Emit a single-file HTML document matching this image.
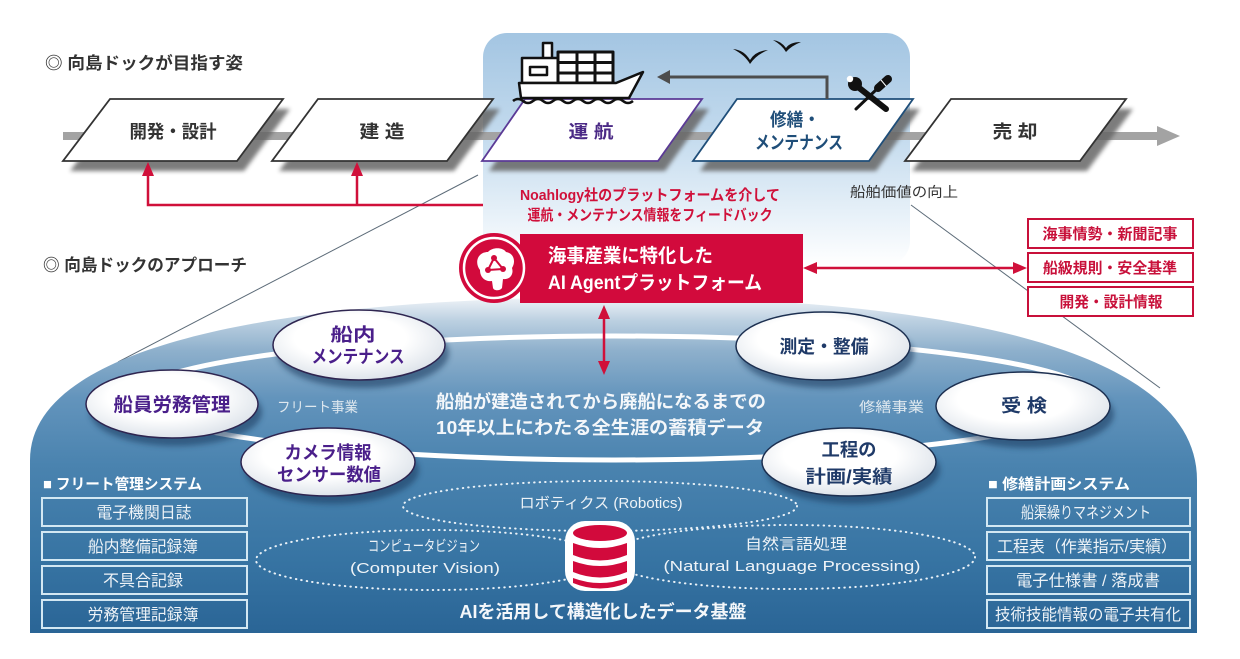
<!DOCTYPE html>
<html><head><meta charset="utf-8">
<style>
html,body{margin:0;padding:0;background:#fff;}
svg{display:block;}
text{font-family:"Liberation Sans","Noto Sans CJK JP",sans-serif;}
</style></head><body>
<svg width="1240" height="659" viewBox="0 0 1240 659" xmlns="http://www.w3.org/2000/svg">
<defs>
 <linearGradient id="sky" x1="0" y1="0" x2="0" y2="1">
   <stop offset="0" stop-color="#a3c5e2"/>
   <stop offset="0.45" stop-color="#c4dbee"/>
   <stop offset="0.8" stop-color="#e9f2f9"/>
   <stop offset="1" stop-color="#ffffff"/>
 </linearGradient>
 <linearGradient id="dome" gradientUnits="userSpaceOnUse" x1="0" y1="297" x2="0" y2="633">
   <stop offset="0" stop-color="#f0f4f8"/>
   <stop offset="0.07" stop-color="#bcd0e1"/>
   <stop offset="0.16" stop-color="#8eb0cc"/>
   <stop offset="0.3" stop-color="#6394bc"/>
   <stop offset="0.5" stop-color="#4a83af"/>
   <stop offset="0.78" stop-color="#3774a3"/>
   <stop offset="1" stop-color="#2a6596"/>
 </linearGradient>
 <radialGradient id="ell" cx="0.45" cy="0.4" r="0.65">
   <stop offset="0.5" stop-color="#ffffff"/>
   <stop offset="1" stop-color="#d8dfe7"/>
 </radialGradient>
 <filter id="blur3" x="-20%" y="-30%" width="140%" height="160%"><feGaussianBlur stdDeviation="3"/></filter>
 <filter id="blur2" x="-20%" y="-30%" width="140%" height="160%"><feGaussianBlur stdDeviation="2.2"/></filter>
</defs>

<!-- upper sky box -->
<rect x="483" y="33" width="427" height="232" rx="24" fill="url(#sky)"/>

<!-- thin diagonal lines -->
<line x1="478" y1="175" x2="118" y2="362" stroke="#5c6b78" stroke-width="1"/>
<line x1="911" y1="205" x2="1160" y2="388" stroke="#5c6b78" stroke-width="1"/>

<!-- title 1 -->
<text x="45" y="69" font-size="17" font-weight="bold" fill="#333" textLength="198" lengthAdjust="spacingAndGlyphs">◎ 向島ドックが目指す姿</text>

<!-- gray process line -->
<rect x="63" y="132" width="1096" height="8" fill="#a3a3a3"/>
<polygon points="1157,126 1180,136 1157,146" fill="#a3a3a3"/>

<!-- parallelogram shadows -->
<g fill="#666" opacity="0.85" filter="url(#blur2)">
 <polygon points="117,109 290,109 244,171 70,171"/>
 <polygon points="325,109 500,109 454,171 279,171"/>
 <polygon points="532,109 709,109 665,171 489,171"/>
 <polygon points="744,109 920,109 876,171 700,171"/>
 <polygon points="958,109 1133,109 1087,171 912,171"/>
</g>
<!-- parallelograms -->
<g fill="#fff" stroke-width="1.8">
 <polygon points="110,99 283,99 237,161 63,161" stroke="#333"/>
 <polygon points="318,99 493,99 447,161 272,161" stroke="#333"/>
 <polygon points="525,99 702,99 658,161 482,161" stroke="#5b3a96"/>
 <polygon points="737,99 913,99 869,161 693,161" stroke="#1f4e79"/>
 <polygon points="951,99 1126,99 1080,161 905,161" stroke="#333"/>
</g>
<g font-size="18" font-weight="bold" text-anchor="middle">
 <text x="173" y="138" fill="#333" textLength="87" lengthAdjust="spacingAndGlyphs">開発・設計</text>
 <text x="382" y="138" fill="#333" textLength="45" lengthAdjust="spacingAndGlyphs">建 造</text>
 <text x="591" y="138" fill="#4b2a86" textLength="45" lengthAdjust="spacingAndGlyphs">運 航</text>
 <text x="795" y="126" fill="#1f4e79" textLength="50" lengthAdjust="spacingAndGlyphs">修繕・</text>
 <text x="799" y="149" fill="#1f4e79" textLength="88" lengthAdjust="spacingAndGlyphs">メンテナンス</text>
 <text x="1015" y="138" fill="#333" textLength="45" lengthAdjust="spacingAndGlyphs">売 却</text>
</g>

<!-- ship -->
<g stroke="#111" stroke-width="2.5" fill="#fff" stroke-linejoin="round">
 <rect x="543" y="43" width="9" height="16"/>
 <rect x="522" y="58" width="36" height="25"/>
 <rect x="530" y="67" width="17" height="8"/>
 <rect x="558" y="52" width="55" height="31" stroke-width="3"/>
 <path d="M577,52 V83 M595,52 V83 M558,62.5 H613 M558,73 H613" stroke-width="3" fill="none"/>
 <path d="M519,83 L616,83 L643,72 L629,98 L521,98 Z"/>
 <path d="M513,101 q5,-4 10,0 q5,4 10,0 q5,-4 10,0 q5,4 10,0 q5,-4 10,0 q5,4 10,0 q5,-4 10,0 q5,4 10,0 q5,-4 10,0 q5,4 10,0 q5,-4 10,0 q5,4 10,0" fill="none"/>
</g>

<!-- birds -->
<g fill="#111">
 <path d="M733,49 Q744,50 750,60 Q755,51 768,50 Q756,55 750,64 Q745,55 733,49 Z"/>
 <path d="M773,40 Q781,41 786,48 Q790,42 801,42 Q791,46 786,52 Q782,45 773,40 Z"/>
</g>

<!-- arrow from maintenance to ship -->
<polyline points="827,99 827,77 668,77" fill="none" stroke="#4d4d4d" stroke-width="3"/>
<polygon points="657,77 670,70 670,84" fill="#4d4d4d"/>

<!-- tools icon -->
<g stroke="#111" stroke-linecap="round">
 <line x1="858" y1="87" x2="886" y2="109" stroke-width="6"/>
 <circle cx="855" cy="84" r="7" fill="#111" stroke="none"/>
 <circle cx="850" cy="79" r="3.2" fill="#fff" stroke="none"/>
 <line x1="878" y1="88" x2="856" y2="109" stroke-width="3"/>
 <line x1="878" y1="88" x2="888" y2="79" stroke-width="8"/>
 <line x1="881" y1="80" x2="886" y2="86" stroke="#fff" stroke-width="1"/>
</g>

<!-- red feedback -->
<g stroke="#d0103a" stroke-width="2.5" fill="none">
 <path d="M148,175 L148,205 L483,205 M357,175 L357,205"/>
</g>
<g fill="#d0103a">
 <polygon points="148,162 142,176 154,176"/>
 <polygon points="357,162 351,176 363,176"/>
</g>
<g font-size="15" font-weight="bold" fill="#d0103a" text-anchor="middle">
 <text x="650" y="200" textLength="260" lengthAdjust="spacingAndGlyphs">Noahlogy社のプラットフォームを介して</text>
 <text x="650" y="220" textLength="245" lengthAdjust="spacingAndGlyphs">運航・メンテナンス情報をフィードバック</text>
</g>
<text x="850" y="197" font-size="14" fill="#333" textLength="108" lengthAdjust="spacingAndGlyphs">船舶価値の向上</text>

<!-- title 2 -->
<text x="43" y="271" font-size="17" font-weight="bold" fill="#333" textLength="204" lengthAdjust="spacingAndGlyphs">◎ 向島ドックのアプローチ</text>

<!-- dome -->
<path d="M30,633 L30,460 C30,340 300,298 614,297 C930,297 1197,345 1197,480 L1197,633 Z" fill="url(#dome)"/>
<ellipse cx="614" cy="398" rx="480" ry="62" fill="none" stroke="#ffffff" stroke-width="5"/>

<!-- red AI box -->
<rect x="520" y="234" width="283" height="69" fill="#d20a3c"/>
<text x="548" y="262" font-size="19" font-weight="bold" fill="#fff" textLength="165" lengthAdjust="spacingAndGlyphs">海事産業に特化した</text>
<text x="548" y="289" font-size="19" font-weight="bold" fill="#fff" textLength="214" lengthAdjust="spacingAndGlyphs">AI Agentプラットフォーム</text>
<circle cx="494" cy="268" r="35" fill="#d20a3c"/>
<circle cx="494" cy="268" r="30" fill="none" stroke="#fff" stroke-width="2.5"/>
<path d="M480,270 C474,262 478,252 488,252 C492,247 503,247 506,252 C514,253 516,262 512,268 C514,274 510,280 503,279 L502,288 C500,291 494,291 493,288 L492,281 C486,282 480,278 480,270 Z" fill="#fff"/>
<g stroke="#d20a3c" stroke-width="2" fill="#d20a3c">
 <line x1="494" y1="258" x2="488" y2="270"/>
 <line x1="494" y1="258" x2="503" y2="269"/>
 <line x1="488" y1="270" x2="503" y2="269"/>
 <circle cx="494" cy="258" r="3" stroke="none"/>
 <circle cx="488" cy="270" r="3" stroke="none"/>
 <circle cx="503" cy="269" r="3" stroke="none"/>
</g>

<!-- red arrows -->
<g stroke="#d0103a" stroke-width="2.5">
 <line x1="815" y1="268" x2="1015" y2="268"/>
 <line x1="604" y1="317" x2="604" y2="363"/>
</g>
<g fill="#d0103a">
 <polygon points="803,268 817,262 817,274"/>
 <polygon points="1027,268 1013,262 1013,274"/>
 <polygon points="604,305 598,319 610,319"/>
 <polygon points="604,375 598,361 610,361"/>
</g>

<!-- right red outline boxes -->
<g fill="#fff" stroke="#c8103a" stroke-width="2">
 <rect x="1028" y="219" width="165" height="29"/>
 <rect x="1028" y="253" width="165" height="29"/>
 <rect x="1028" y="287" width="165" height="29"/>
</g>
<g font-size="15" font-weight="bold" fill="#c8103a" text-anchor="middle">
 <text x="1110" y="239" textLength="135" lengthAdjust="spacingAndGlyphs">海事情勢・新聞記事</text>
 <text x="1110" y="273" textLength="134" lengthAdjust="spacingAndGlyphs">船級規則・安全基準</text>
 <text x="1111" y="307" textLength="103" lengthAdjust="spacingAndGlyphs">開発・設計情報</text>
</g>

<!-- dotted ellipses -->
<g fill="none" stroke="#eaf2f8" stroke-width="2" stroke-dasharray="0.5 5" stroke-linecap="round">
 <ellipse cx="600" cy="506" rx="197" ry="25"/>
 <ellipse cx="432" cy="560" rx="176" ry="30"/>
 <ellipse cx="790" cy="557" rx="185" ry="32"/>
</g>

<!-- database icon -->
<rect x="565" y="521" width="70" height="70" rx="20" fill="#fff"/>
<g fill="#d20a3c">
 <ellipse cx="600" cy="533" rx="27" ry="8"/>
 <path d="M573,543 Q600,553 627,543 L627,555 Q600,566 573,555 Z"/>
 <path d="M573,561 Q600,571 627,561 L627,572 Q600,583 573,572 Z"/>
 <path d="M573,578 Q600,588 627,578 L627,583 Q600,594 573,583 Z"/>
</g>

<!-- ellipse shadows -->
<g fill="#1a3d62" opacity="0.6" filter="url(#blur3)">
 <ellipse cx="363" cy="353" rx="86" ry="35"/>
 <ellipse cx="176" cy="412" rx="86" ry="34"/>
 <ellipse cx="332" cy="470" rx="87" ry="34"/>
 <ellipse cx="827" cy="354" rx="87" ry="34"/>
 <ellipse cx="1027" cy="414" rx="87" ry="34"/>
 <ellipse cx="853" cy="470" rx="87" ry="34"/>
</g>
<g fill="url(#ell)" stroke-width="1.5">
 <ellipse cx="359" cy="345" rx="86" ry="35" stroke="#2e2550"/>
 <ellipse cx="172" cy="404" rx="86" ry="34" stroke="#2e2550"/>
 <ellipse cx="328" cy="462" rx="87" ry="34" stroke="#2e2550"/>
 <ellipse cx="823" cy="346" rx="87" ry="34" stroke="#1c2f50"/>
 <ellipse cx="1023" cy="406" rx="87" ry="34" stroke="#1c2f50"/>
 <ellipse cx="849" cy="462" rx="87" ry="34" stroke="#1c2f50"/>
</g>
<g font-size="18" font-weight="bold" text-anchor="middle">
 <text x="353" y="341" fill="#4a1f8a" textLength="45" lengthAdjust="spacingAndGlyphs">船内</text>
 <text x="358" y="363" fill="#4a1f8a" textLength="93" lengthAdjust="spacingAndGlyphs">メンテナンス</text>
 <text x="172" y="411" fill="#4a1f8a" font-size="19" textLength="117" lengthAdjust="spacingAndGlyphs">船員労務管理</text>
 <text x="328" y="459" fill="#4a1f8a" textLength="87" lengthAdjust="spacingAndGlyphs">カメラ情報</text>
 <text x="329" y="481" fill="#4a1f8a" textLength="104" lengthAdjust="spacingAndGlyphs">センサー数値</text>
 <text x="824" y="353" fill="#1f3a68" textLength="89" lengthAdjust="spacingAndGlyphs">測定・整備</text>
 <text x="1024" y="412" fill="#1f3a68" textLength="46" lengthAdjust="spacingAndGlyphs">受 検</text>
 <text x="849" y="456" fill="#1f3a68" textLength="55" lengthAdjust="spacingAndGlyphs">工程の</text>
 <text x="849" y="483" fill="#1f3a68" textLength="87" lengthAdjust="spacingAndGlyphs">計画/実績</text>
</g>

<!-- dome labels -->
<g fill="#dfe8ef" font-size="14">
 <text x="277" y="412" textLength="81" lengthAdjust="spacingAndGlyphs">フリート事業</text>
 <text x="859" y="412" textLength="65" lengthAdjust="spacingAndGlyphs">修繕事業</text>
</g>
<g fill="#f4f7fa" font-size="18" font-weight="bold" text-anchor="middle">
 <text x="601" y="408" textLength="330" lengthAdjust="spacingAndGlyphs">船舶が建造されてから廃船になるまでの</text>
 <text x="600" y="434" textLength="328" lengthAdjust="spacingAndGlyphs">10年以上にわたる全生涯の蓄積データ</text>
 <text x="603" y="618" textLength="287" lengthAdjust="spacingAndGlyphs">AIを活用して構造化したデータ基盤</text>
</g>
<g fill="#eef3f7" font-size="15" text-anchor="middle">
 <text x="601" y="508" textLength="163" lengthAdjust="spacingAndGlyphs">ロボティクス (Robotics)</text>
 <text x="424" y="551" textLength="112" lengthAdjust="spacingAndGlyphs">コンピュータビジョン</text>
 <text x="425" y="573" textLength="150" lengthAdjust="spacingAndGlyphs">(Computer Vision)</text>
 <text x="796" y="549" textLength="102" lengthAdjust="spacingAndGlyphs">自然言語処理</text>
 <text x="792" y="571" textLength="257" lengthAdjust="spacingAndGlyphs">(Natural Language Processing)</text>
</g>

<!-- left column -->
<text x="43" y="489" font-size="15" font-weight="bold" fill="#fff" textLength="159" lengthAdjust="spacingAndGlyphs">■ フリート管理システム</text>
<g fill="none" stroke="#d3e8f3" stroke-width="2">
 <rect x="42" y="498" width="205" height="28"/>
 <rect x="42" y="532" width="205" height="28"/>
 <rect x="42" y="566" width="205" height="28"/>
 <rect x="42" y="600" width="205" height="28"/>
 <rect x="987" y="498" width="203" height="28"/>
 <rect x="987" y="532" width="203" height="28"/>
 <rect x="987" y="566" width="203" height="28"/>
 <rect x="987" y="600" width="203" height="28"/>
</g>
<g fill="#eef3f7" font-size="16" text-anchor="middle">
 <text x="144" y="518" textLength="95" lengthAdjust="spacingAndGlyphs">電子機関日誌</text>
 <text x="143" y="552" textLength="110" lengthAdjust="spacingAndGlyphs">船内整備記録簿</text>
 <text x="143" y="586" textLength="80" lengthAdjust="spacingAndGlyphs">不具合記録</text>
 <text x="143" y="620" textLength="111" lengthAdjust="spacingAndGlyphs">労務管理記録簿</text>
 <text x="1086" y="518" textLength="130" lengthAdjust="spacingAndGlyphs">船渠繰りマネジメント</text>
 <text x="1087" y="552" textLength="180" lengthAdjust="spacingAndGlyphs">工程表（作業指示/実績）</text>
 <text x="1088" y="586" textLength="144" lengthAdjust="spacingAndGlyphs">電子仕様書 / 落成書</text>
 <text x="1088" y="620" textLength="186" lengthAdjust="spacingAndGlyphs">技術技能情報の電子共有化</text>
</g>
<text x="988" y="489" font-size="15" font-weight="bold" fill="#fff" textLength="142" lengthAdjust="spacingAndGlyphs">■ 修繕計画システム</text>
</svg>
</body></html>
